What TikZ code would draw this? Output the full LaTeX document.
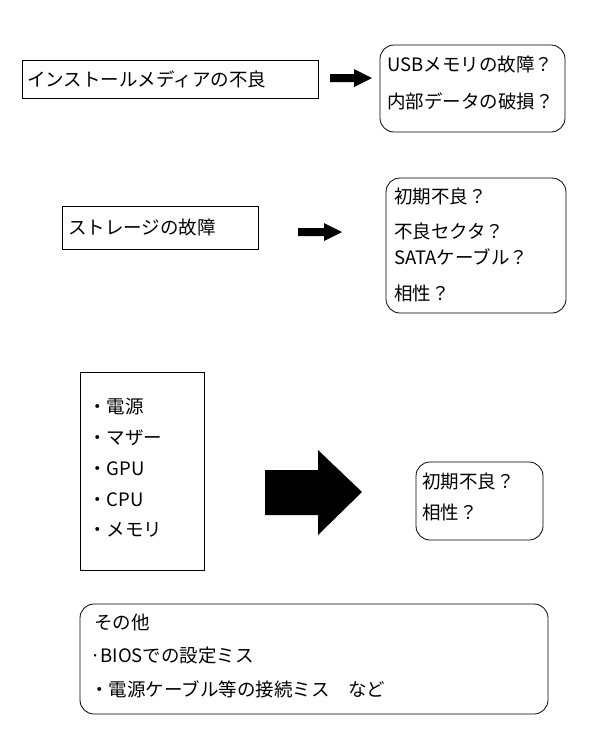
\documentclass[tikz,border=0pt]{standalone}
\usepackage{fontspec}
\newfontfamily\cjk{Noto Sans CJK JP}
\usetikzlibrary{positioning}

\begin{document}
\begin{tikzpicture}[x=1pt, y=-1pt,
        every node/.style={font=\cjk\fontsize{18.5}{22}\selectfont},
        cause/.style={draw, thick, inner sep=0pt},
        guess/.style={draw, thick, rounded corners=14pt, inner sep=0pt},
        line/.style={anchor=west, inner sep=0pt},
        fatarrow/.style={fill=black}]
    \useasboundingbox (0,0) rectangle (606,734);

    % media
    \draw[cause] (22,60) rectangle (318,98);
    \node[line] (media) at (27,79) {インストールメディアの不良};
    \fill[fatarrow] (330,74) -- (354,74) -- (354,69) -- (372,78) -- (354,87) -- (354,82) -- (330,82) -- cycle;
    \draw[guess] (380,45) rectangle (565,132);
    \node[line] (usb) at (387,64) {USBメモリの故障？};
    \node[line] (data) at (387,101) {内部データの破損？};

    % storage
    \draw[cause] (62,206) rectangle (258,249);
    \node[line] (storage) at (68,227) {ストレージの故障};
    \fill[fatarrow] (298,228) -- (324,228) -- (324,223) -- (342,232) -- (324,241) -- (324,236) -- (298,236) -- cycle;
    \draw[guess] (386,178) rectangle (566,313);
    \node[line] (s1) at (394,196) {初期不良？};
    \node[line] (s2) at (394,231) {不良セクタ？};
    \node[line] (s3) at (394,257) {SATAケーブル？};
    \node[line] (s4) at (394,293) {相性？};

    % parts
    \draw[cause] (80,372) rectangle (204,570);
    \node[line] (psu) at (88,407) {・電源};
    \node[line] (mb) at (88,438) {・マザー};
    \node[line] (gpu) at (88,469) {・GPU};
    \node[line] (cpu) at (88,500) {・CPU};
    \node[line] (mem) at (88,530) {・メモリ};
    \fill[fatarrow] (265,470) -- (318,470) -- (318,450) -- (362,492) -- (318,535) -- (318,515) -- (265,515) -- cycle;
    \draw[guess] (416,462) rectangle (543,540);
    \node[line] (p1) at (422,481) {初期不良？};
    \node[line] (p2) at (422,512) {相性？};

    % other
    \draw[guess] (80,604) rectangle (548,714);
    \node[line] (etc) at (94,622) {その他};
    \node[line] (bios) at (90,656) {·BIOSでの設定ミス};
    \node[line] (cable) at (90,689) {・電源ケーブル等の接続ミス　など};
\end{tikzpicture}
\end{document}
